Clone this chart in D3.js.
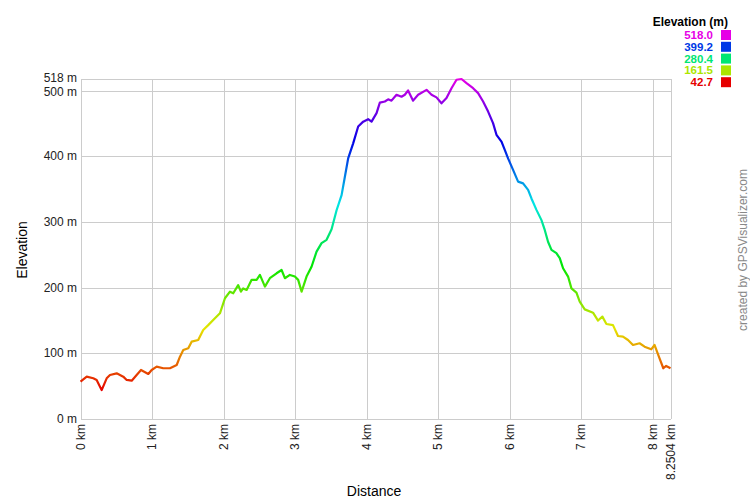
<!DOCTYPE html>
<html><head><meta charset="utf-8">
<script src="https://cdn.jsdelivr.net/npm/d3@7"></script>
<style>
html,body{margin:0;padding:0;background:#fff;}
text{font-family:"Liberation Sans",Arial,sans-serif;}
</style></head>
<body>
<svg id="chart" width="750" height="500"></svg>
<script>
// distance (km)
const distKm = [0.000,0.087,0.179,0.226,0.296,0.366,0.412,0.506,0.598,0.646,0.716,0.785,0.846,0.948,0.995,1.065,1.157,1.251,1.345,1.391,1.437,1.507,1.554,1.646,1.716,1.786,1.880,1.950,2.020,2.090,2.136,2.205,2.243,2.275,2.323,2.393,2.463,2.509,2.579,2.648,2.742,2.812,2.858,2.928,2.998,3.044,3.092,3.161,3.231,3.301,3.371,3.441,3.511,3.581,3.651,3.697,3.743,3.813,3.883,3.953,4.022,4.070,4.140,4.186,4.256,4.302,4.349,4.419,4.489,4.535,4.581,4.651,4.721,4.839,4.909,4.978,5.048,5.118,5.188,5.258,5.328,5.398,5.490,5.560,5.630,5.700,5.769,5.817,5.887,5.933,5.979,6.049,6.119,6.189,6.259,6.306,6.376,6.446,6.492,6.538,6.586,6.655,6.702,6.748,6.818,6.865,6.935,6.981,7.051,7.167,7.237,7.298,7.354,7.446,7.516,7.586,7.656,7.726,7.818,7.888,7.981,8.027,8.088,8.150,8.190,8.2504];
// elevation (m)
const elevM = [57,64.5,62,59.5,44,62,67,69.6,64.5,59.5,58.4,67,74.7,68.6,74.7,79.7,77.3,77.3,82.3,95,105,107.8,117.8,120.4,135.7,143,153.5,161,184,194,191.6,204,194,199,196.6,212,212,219.5,201.7,214.5,222,227,214.5,219.5,217,212,194,217,232,255,268,273,289,318,341,369,397,420,445.6,453,456.8,453,466,482,483.7,487,485,494,491,494,500.5,485,494,501.5,494,490,481,489,504,516.8,518,511.7,504,496.5,483.7,468.4,450.7,433,422.7,410,397,379.6,361.7,359,349,336,318.6,303,288,270,257.6,252.6,245,229.7,217,199,192.5,178.8,167,162,150,156,144.8,143,126.5,125.5,120.4,112.8,115.4,110.2,106.2,112.8,95,77.3,80.8,77.3];

const yTicks = [0,100,200,300,400,500,518];
const xTicks = [0,1,2,3,4,5,6,7,8,8.2504];
const legendValues = [518.0,399.2,280.4,161.5,42.7];
const elevMin = 42.7, elevMax = 518.0;

const svg = d3.select("#chart");
const pLeft = 80.5, pRight = 670.5, pTop = 79, pBottom = 419;
const x = d3.scaleLinear().domain([0, 8.2504]).range([pLeft, pRight]);
const y = d3.scaleLinear().domain([0, 518]).range([pBottom, pTop]);
const hue = d3.scaleLinear().domain([elevMin, elevMax]).range([0, 300]).clamp(true);
const colorOf = v => d3.hsl(hue(v), 1, 0.45).formatHex();

// gridlines
const grid = svg.append("g").attr("stroke", "#cccccc").attr("stroke-width", 1).attr("shape-rendering","crispEdges");
yTicks.forEach(t => {
  grid.append("line").attr("x1", pLeft).attr("x2", pRight)
    .attr("y1", Math.round(y(t))+0.5).attr("y2", Math.round(y(t))+0.5);
});
xTicks.forEach(t => {
  grid.append("line").attr("y1", pTop).attr("y2", pBottom)
    .attr("x1", Math.round(x(t))+0.5).attr("x2", Math.round(x(t))+0.5);
});

// y labels
yTicks.forEach(t => {
  const dy = t === 518 ? 2.5 : (t === 500 ? 4.8 : 4);
  svg.append("text").attr("x", 77).attr("y", y(t) + dy)
    .attr("text-anchor", "end").attr("font-size", 12).attr("fill", "#222")
    .text(t + " m");
});
// x labels
xTicks.forEach(t => {
  svg.append("text")
    .attr("transform", `translate(${x(t)+4},${pBottom+5}) rotate(-90)`)
    .attr("text-anchor", "end").attr("font-size", 12).attr("fill", "#222")
    .text(t + " km");
});

// axis titles
svg.append("text").attr("transform", "translate(27,250) rotate(-90)")
  .attr("text-anchor", "middle").attr("font-size", 14).attr("fill", "#000").text("Elevation");
svg.append("text").attr("x", 374).attr("y", 496)
  .attr("text-anchor", "middle").attr("font-size", 14).attr("fill", "#000").text("Distance");

// watermark
svg.append("text").attr("transform", "translate(747,250) rotate(-90)")
  .attr("text-anchor", "middle").attr("font-size", 12).attr("fill", "#888").text("created by GPSVisualizer.com");

// gradient for line by elevation
const defs = svg.append("defs");
const grad = defs.append("linearGradient").attr("id", "elevGrad")
  .attr("gradientUnits", "userSpaceOnUse")
  .attr("x1", 0).attr("x2", 0).attr("y1", y(elevMin)).attr("y2", y(elevMax));
d3.range(0, 1.0001, 0.05).forEach(f => {
  const v = elevMin + f * (elevMax - elevMin);
  grad.append("stop").attr("offset", f).attr("stop-color", colorOf(v));
});

const data = distKm.map((d, i) => [d, elevM[i]]);
const line = d3.line().x(d => x(d[0])).y(d => y(d[1]));
svg.append("path").datum(data).attr("d", line)
  .attr("fill", "none").attr("stroke", "url(#elevGrad)").attr("stroke-width", 2.2)
  .attr("stroke-linejoin", "round");

// legend
svg.append("text").attr("x", 728).attr("y", 25.5).attr("text-anchor", "end")
  .attr("font-size", 12).attr("font-weight", "bold").attr("fill", "#000").text("Elevation (m)");
legendValues.forEach((v, i) => {
  const cy = 35 + i * 11.8;
  svg.append("text").attr("x", 713).attr("y", cy + 4).attr("text-anchor", "end")
    .attr("font-size", 11.5).attr("font-weight", "bold").attr("fill", colorOf(v)).text(v.toFixed(1));
  svg.append("rect").attr("x", 721).attr("y", cy - 5).attr("width", 10).attr("height", 10)
    .attr("fill", colorOf(v));
});
</script>
</body></html>
